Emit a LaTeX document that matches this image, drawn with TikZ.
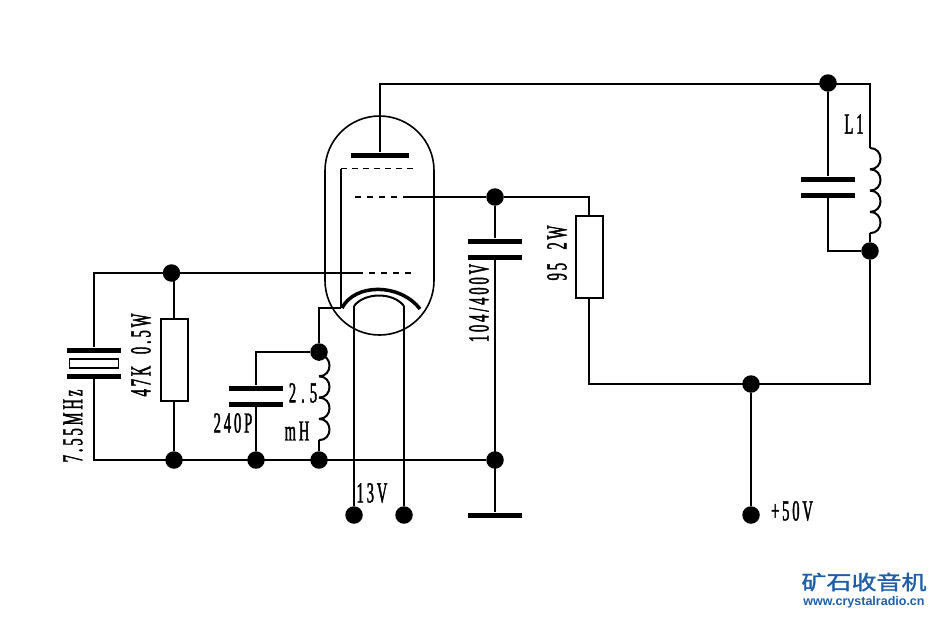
\documentclass[tikz,border=0pt]{standalone}
\usepackage{fontspec}
\newfontfamily\schfont[FakeStretch=0.5,LetterSpace=10,FakeBold=1.4]{Liberation Serif}
\newfontfamily\cnfont[FakeBold=1.5,FakeStretch=1.25]{Noto Sans CJK SC}
\newfontfamily\urlfont{Liberation Sans}
\definecolor{logoblue}{HTML}{1F5FA8}
\newcommand{\coilat}[1]{%
	\foreach \i in {0,...,3}
		\draw[wire] (#1) ++(0,\i*21.3) .. controls +(14,0) and +(14,0) .. +(0,21.3);}
\tikzset{
	wire/.style={line width=2pt},
	dot/.style={circle,fill=black,inner sep=0pt,minimum size=17.5pt},
	plate/.style={rectangle,fill=black,inner sep=0pt,minimum width=54pt,minimum height=5pt},
	res/.style={rectangle,draw,line width=2pt,inner sep=0pt,minimum width=27pt,minimum height=82pt},
	lbl/.style={font=\schfont\fontsize{29}{29}\selectfont,inner sep=0pt},
}
\begin{document}
\begin{tikzpicture}[x=1pt,y=-1pt]
		\useasboundingbox (0,0) rectangle (932,616);
		% tube
		\node[draw,line width=1.6pt,rounded corners=54.5pt,inner sep=0pt,minimum width=109pt,minimum height=219pt] (tube) at (379.5,225.5) {};
		\node[rectangle,fill=black,inner sep=0pt,minimum width=58pt,minimum height=5pt] (anode) at (380,155) {};
		\coordinate (gridtopL) at (341,168.5);
		\coordinate (gridtopR) at (416,168.5);
		\coordinate (gridmidL) at (355,197);
		\coordinate (gridmidR) at (405,197);
		\coordinate (gridlowL) at (357,273);
		\coordinate (gridlowR) at (411,273);
		\coordinate (cathL) at (342,308);
		\coordinate (cathR) at (420,309);
		\coordinate (heatL) at (354,306);
		\coordinate (heatR) at (404,306);
		\draw[line width=1pt,dash pattern=on 6pt off 5pt] (gridtopL) -- (gridtopR);
		\draw[wire,dash pattern=on 6pt off 6pt] (gridmidL) -- (gridmidR);
		\draw[wire,dash pattern=on 6pt off 6pt] (gridlowL) -- (gridlowR);
		\draw[line width=3.5pt] (cathL) .. controls (355,283) and (400,283) .. (cathR);
		\draw[wire] (heatL) .. controls (365,292) and (393,292) .. (heatR);
		% junctions
		\node[dot] (top) at (828,83) {};
		\node[dot] (tank) at (870,251) {};
		\node[dot] (screen) at (495,197) {};
		\node[dot] (supply) at (751,384) {};
		\node[dot] (plus) at (751,515) {};
		\node[dot] (gridjn) at (171.5,273) {};
		\node[dot] (gnda) at (174,460) {};
		\node[dot] (gndb) at (256,460) {};
		\node[dot] (gndc) at (319,460) {};
		\node[dot] (gndd) at (495,460) {};
		\node[dot] (coiltop) at (319,352) {};
		\node[dot] (heata) at (354,515) {};
		\node[dot] (heatb) at (404,515) {};
		% parts
		\node[res] (rgrid) at (174,360) {};
		\node[res] (rscreen) at (589,257) {};
		\node[plate] (xtalT) at (94,350) {};
		\node[plate] (xtalB) at (94,376) {};
		\node[rectangle,draw,line width=1.6pt,inner sep=0pt,minimum width=49pt,minimum height=9pt] (xtal) at (94,363.5) {};
		\node[plate] (cgridT) at (256,388) {};
		\node[plate] (cgridB) at (256,404) {};
		\node[plate] (cscrT) at (495,241) {};
		\node[plate] (cscrB) at (495,257) {};
		\node[plate] (ctankT) at (828,179) {};
		\node[plate] (ctankB) at (828,195) {};
		\node[plate] (earth) at (495,515) {};
		\coordinate (leftT) at (94,273);
		\coordinate (leftB) at (94,460);
		\coordinate (topL) at (380,84);
		\coordinate (topR) at (870,84);
		\coordinate (coilAT) at (870,148);
		\coordinate (coilAB) at (870,233);
		\coordinate (coilBT) at (319,355);
		\coordinate (coilBB) at (319,440);
		\coordinate (rsT) at (589,197);
		\coordinate (rsB) at (589,384);
		\coordinate (rightB) at (870,384);
		\coordinate (cathC) at (319,308);
		\coordinate (coilmark) at (341,308);
		\coilat{coilAT}
		\coilat{coilBT}
		% wires
		\draw[wire] (anode.north) -- (topL) -- (topR) -- (coilAT);
		\draw[wire] (coilAB) -- (tank) -- (rightB) -- (rsB) -- (rscreen.south);
		\draw[wire] (top) -- (ctankT);
		\draw[wire] (ctankB) |- (tank);
		\draw[wire] (gridmidR) -- (screen) -- (rsT) -- (rscreen.north);
		\draw[wire] (screen) -- (cscrT);
		\draw[wire] (cscrB) -- (earth);
		\draw[wire] (supply) -- (plus);
		\draw[wire] (gridlowL) -- (leftT) -- (xtalT);
		\draw[wire] (xtalB) -- (leftB) -- (gndd);
		\draw[wire] (rgrid.north) -- (rgrid.north |- gridjn);
		\draw[wire] (rgrid.south) -- (gnda);
		\draw[wire] (coiltop) -| (cgridT);
		\draw[wire] (cgridB) -- (gndb);
		\draw[wire] (coilBB) -- (gndc);
		\draw[wire] (coilBT) -- (coiltop) -- (cathC) -- (coilmark);
		\draw[wire] (gridtopL) -- (coilmark);
		\draw[wire] (heatL) -- (heata);
		\draw[wire] (heatR) -- (heatb);
		% labels
		\node[lbl,rotate=90] (xtallbl) at (73,426) {7.55MHz};
		\node[lbl,rotate=90] (rgridlbl) at (141,355) {47K\hspace{5pt} 0.5W};
		\node[lbl] (cgridlbl) at (233,423) {240P};
		\node[lbl] (coilnum) at (303,393) {2\hspace{5pt}.\hspace{5pt}5};
		\node[lbl] (coilunit) at (297,431) {mH};
		\node[lbl,rotate=90] (cscrlbl) at (479,303) {104/400V};
		\node[lbl,rotate=90] (rscrlbl) at (557,253) {95\hspace{7pt} 2W};
		\node[lbl] (heatlbl) at (372,493) {13V};
		\node[lbl] (pluslbl) at (792,511) {+50V};
		\node[lbl] (tanklbl) at (854,124) {L1};
		\node[inner sep=0pt,text=logoblue,font=\cnfont\fontsize{20}{20}\selectfont] (logo) at (864,582) {矿石收音机};
		\node[inner sep=0pt,text=logoblue,font=\urlfont\bfseries\fontsize{12.5}{12.5}\selectfont] (url) at (864,602) {www.crystalradio.cn};
		\end{tikzpicture}
\end{document}
